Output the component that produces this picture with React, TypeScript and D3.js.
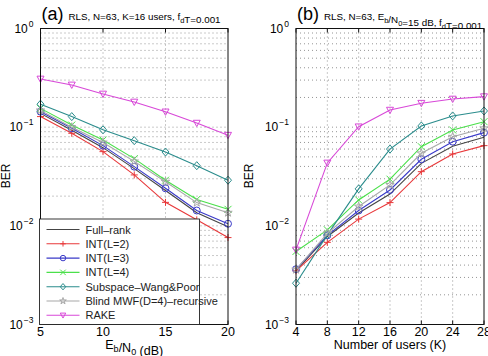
import React, { useEffect, useRef } from 'react';
import * as d3 from 'd3';

const ebn0 = [5, 7.5, 10, 12.5, 15, 17.5, 20];
const users = [4, 8, 12, 16, 20, 24, 28];

// BER vs Eb/N0, K=16 users
const fullRankA = [0.138, 0.093, 0.062, 0.038, 0.0228, 0.0136, 0.0098];
const int2A = [0.128, 0.0867, 0.0565, 0.0328, 0.0173, 0.0115, 0.0076];
const int3A = [0.1436, 0.0975, 0.065, 0.0398, 0.024, 0.0143, 0.0105];
const int4A = [0.155, 0.105, 0.074, 0.048, 0.029, 0.0185, 0.0147];
const subspaceA = [0.171, 0.128, 0.094, 0.073, 0.056, 0.0407, 0.029];
const blindA = [0.148, 0.1, 0.07, 0.045, 0.028, 0.0172, 0.0136];
const rakeA = [0.308, 0.268, 0.217, 0.18, 0.143, 0.11, 0.083];

// BER vs number of users, Eb/N0=15 dB
const fullRankB = [0.0035, 0.0078, 0.0135, 0.021, 0.043, 0.064, 0.079];
const int2B = [0.0035, 0.0068, 0.0117, 0.0172, 0.0354, 0.0535, 0.065];
const int3B = [0.00363, 0.008, 0.0143, 0.0231, 0.0473, 0.0713, 0.088];
const int4B = [0.0055, 0.0091, 0.0183, 0.0297, 0.0634, 0.0937, 0.1137];
const subspaceB = [0.00262, 0.0081, 0.0237, 0.06, 0.1028, 0.13, 0.146];
const blindB = [0.0036, 0.0084, 0.0157, 0.026, 0.0544, 0.08, 0.0975];
const rakeB = [0.0057, 0.0434, 0.101, 0.149, 0.175, 0.193, 0.204];

const names = [
  'Full\u2013rank',
  'INT(L=2)',
  'INT(L=3)',
  'INT(L=4)',
  'Subspace\u2013Wang&Poor',
  'Blind MWF(D=4)\u2013recursive',
  'RAKE',
];
const colors = ['#444444', '#e8383a', '#3a3ac8', '#4ae04a', '#2a8c8c', '#a8a8a8', '#d848d8'];
const markers = ['none', 'plus', 'circle', 'cross', 'diamond', 'star', 'triangle'];
const seriesA = [fullRankA, int2A, int3A, int4A, subspaceA, blindA, rakeA];
const seriesB = [fullRankB, int2B, int3B, int4B, subspaceB, blindB, rakeB];

const yDecades = [1, 0.1, 0.01, 0.001];
const yExp = ['0', '\u22121', '\u22122', '\u22123'];

const FONT = '"Liberation Sans", Arial, sans-serif';

function markerPath(type, s) {
  const h = s / 2;
  switch (type) {
    case 'plus':
      return `M${-h},0H${h}M0,${-h}V${h}`;
    case 'cross':
      return `M${-h},${-h}L${h},${h}M${-h},${h}L${h},${-h}`;
    case 'circle':
      return d3.symbol(d3.symbolCircle, s * s * 0.78)();
    case 'diamond':
      return `M0,${-h * 1.15}L${h},0L0,${h * 1.15}L${-h},0Z`;
    case 'star':
      return d3.symbol(d3.symbolStar, s * s * 0.45)();
    case 'triangle':
      return `M${-h},${-h * 0.8}L${h},${-h * 0.8}L0,${h}Z`;
    default:
      return null;
  }
}

function drawPanel(svg, opt) {
  const { xs, series, xDomain, xRange, xTicks, titleTag, xLabel, subtitle, legend, berX } = opt;
  const x = d3.scaleLinear().domain(xDomain).range(xRange);
  const y = d3.scaleLog().domain([1e-3, 1]).range([324.5, 28.5]);
  const g = svg.append('g');

  // minor grid on the log axis
  const minor = [];
  [1e-3, 1e-2, 1e-1].forEach(d => {
    for (let k = 1; k < 10; k++) minor.push(d * k);
  });
  g.append('g')
    .selectAll('line')
    .data(minor)
    .join('line')
    .attr('x1', xRange[0])
    .attr('x2', xRange[1])
    .attr('y1', d => y(d))
    .attr('y2', d => y(d))
    .attr('stroke', '#7a7a7a')
    .attr('stroke-width', 0.8)
    .attr('stroke-dasharray', '1,3');

  g.append('g')
    .selectAll('line')
    .data(xTicks.slice(1, -1))
    .join('line')
    .attr('x1', d => x(d))
    .attr('x2', d => x(d))
    .attr('y1', y(1))
    .attr('y2', y(1e-3))
    .attr('stroke', '#7a7a7a')
    .attr('stroke-width', 0.8)
    .attr('stroke-dasharray', '1,3');

  const line = d3
    .line()
    .x(d => x(d[0]))
    .y(d => y(d[1]));

  series.forEach((vals, i) => {
    const pts = xs.map((v, j) => [v, vals[j]]);
    const s = g.append('g');
    s.append('path')
      .attr('d', line(pts))
      .attr('fill', 'none')
      .attr('stroke', colors[i])
      .attr('stroke-width', 1.1);
    const mp = markerPath(markers[i], 7);
    if (mp) {
      s.selectAll('path.m')
        .data(pts)
        .join('path')
        .attr('class', 'm')
        .attr('d', mp)
        .attr('transform', d => `translate(${x(d[0])},${y(d[1])})`)
        .attr('fill', 'none')
        .attr('stroke', colors[i])
        .attr('stroke-width', 1);
    }
  });

  // axes box
  g.append('rect')
    .attr('x', xRange[0])
    .attr('y', y(1))
    .attr('width', xRange[1] - xRange[0])
    .attr('height', y(1e-3) - y(1))
    .attr('fill', 'none')
    .attr('stroke', '#111')
    .attr('stroke-width', 1);

  // inward ticks
  xTicks.forEach(t => {
    g.append('line')
      .attr('x1', x(t)).attr('x2', x(t))
      .attr('y1', y(1e-3)).attr('y2', y(1e-3) - 4)
      .attr('stroke', '#111');
    g.append('line')
      .attr('x1', x(t)).attr('x2', x(t))
      .attr('y1', y(1)).attr('y2', y(1) + 4)
      .attr('stroke', '#111');
  });

  g.append('g')
    .selectAll('text')
    .data(xTicks)
    .join('text')
    .attr('x', d => x(d))
    .attr('y', 336)
    .attr('text-anchor', 'middle')
    .attr('font-size', 12.5)
    .attr('font-family', FONT)
    .text(d => d);

  yDecades.forEach((d, i) => {
    const t = g.append('text')
      .attr('x', xRange[0] - 7)
      .attr('y', y(d) + 4)
      .attr('text-anchor', 'end')
      .attr('font-size', 12)
      .attr('font-family', FONT);
    t.append('tspan').text('10');
    t.append('tspan').attr('dy', -6).attr('dx', 1).attr('font-size', 8.5).text(yExp[i]);
  });

  // y label
  g.append('text')
    .attr('transform', `translate(${berX},176) rotate(-90)`)
    .attr('text-anchor', 'middle')
    .attr('font-size', 12)
    .attr('font-family', FONT)
    .text('BER');

  // x label
  const xl = g.append('text')
    .attr('x', (xRange[0] + xRange[1]) / 2)
    .attr('y', 349)
    .attr('text-anchor', 'middle')
    .attr('font-size', 12.5)
    .attr('font-family', FONT);
  xLabel.forEach(part => {
    if (part.sub) {
      xl.append('tspan').attr('dy', 3).attr('font-size', 9).text(part.sub);
      xl.append('tspan').attr('dy', -3).text('');
    } else {
      xl.append('tspan').text(part.t);
    }
  });

  // title
  const tt = g.append('text')
    .attr('x', xRange[0] + 1)
    .attr('y', 20)
    .attr('font-family', FONT);
  tt.append('tspan').attr('font-size', 18).text(titleTag + ' ');
  subtitle.forEach(part => {
    if (part.sub) {
      tt.append('tspan').attr('dy', 3).attr('font-size', 7.5).text(part.sub);
      tt.append('tspan').attr('dy', -3).attr('font-size', 9.8).text('');
    } else {
      tt.append('tspan').attr('font-size', 9.8).text(part.t);
    }
  });

  if (legend) {
    const lx = xRange[0] - 1;
    const ly = 219;
    const lg = g.append('g');
    lg.append('rect')
      .attr('x', lx)
      .attr('y', ly)
      .attr('width', 160)
      .attr('height', y(1e-3) - ly)
      .attr('fill', '#fff')
      .attr('stroke', '#222')
      .attr('stroke-width', 0.9);
    names.forEach((n, i) => {
      const yy = 229.5 + i * 14.3;
      lg.append('line')
        .attr('x1', lx + 7).attr('x2', lx + 40)
        .attr('y1', yy).attr('y2', yy)
        .attr('stroke', colors[i])
        .attr('stroke-width', 1.1);
      const mp = markerPath(markers[i], 5.5);
      if (mp) {
        lg.append('path')
          .attr('d', mp)
          .attr('transform', `translate(${lx + 23.5},${yy})`)
          .attr('fill', 'none')
          .attr('stroke', colors[i]);
      }
      lg.append('text')
        .attr('x', lx + 46)
        .attr('y', yy + 4)
        .attr('font-size', 11)
        .attr('font-family', FONT)
        .attr('fill', '#222')
        .text(n);
    });
  }
}

const drawChart = el => {
  const svg = d3.select(el);
  svg.selectAll('*').remove();
  svg.append('rect').attr('width', 488).attr('height', 356).attr('fill', '#fff');

  drawPanel(svg, {
    xs: ebn0,
    series: seriesA,
    xDomain: [5, 20],
    xRange: [40.5, 228],
    xTicks: [5, 10, 15, 20],
    titleTag: '(a)',
    subtitle: [{ t: 'RLS, N=63, K=16 users, f' }, { sub: 'd' }, { t: 'T=0.001' }],
    xLabel: [{ t: 'E' }, { sub: 'b' }, { t: '/N' }, { sub: '0' }, { t: ' (dB)' }],
    legend: true,
    berX: 10,
  });

  drawPanel(svg, {
    xs: users,
    series: seriesB,
    xDomain: [4, 28],
    xRange: [296, 484],
    xTicks: users,
    titleTag: '(b)',
    subtitle: [
      { t: 'RLS, N=63, E' }, { sub: 'b' }, { t: '/N' }, { sub: '0' },
      { t: '=15 dB, f' }, { sub: 'd' }, { t: 'T=0.001' },
    ],
    xLabel: [{ t: 'Number of users (K)' }],
    legend: false,
    berX: 253,
  });
};

export default function App() {
  const ref = useRef(null);
  useEffect(() => {
    drawChart(ref.current);
  }, []);
  return (
    <svg
      ref={ref}
      width={488}
      height={356}
      style={{ position: 'absolute', left: 0, top: 0, display: 'block' }}
    />
  );
}
